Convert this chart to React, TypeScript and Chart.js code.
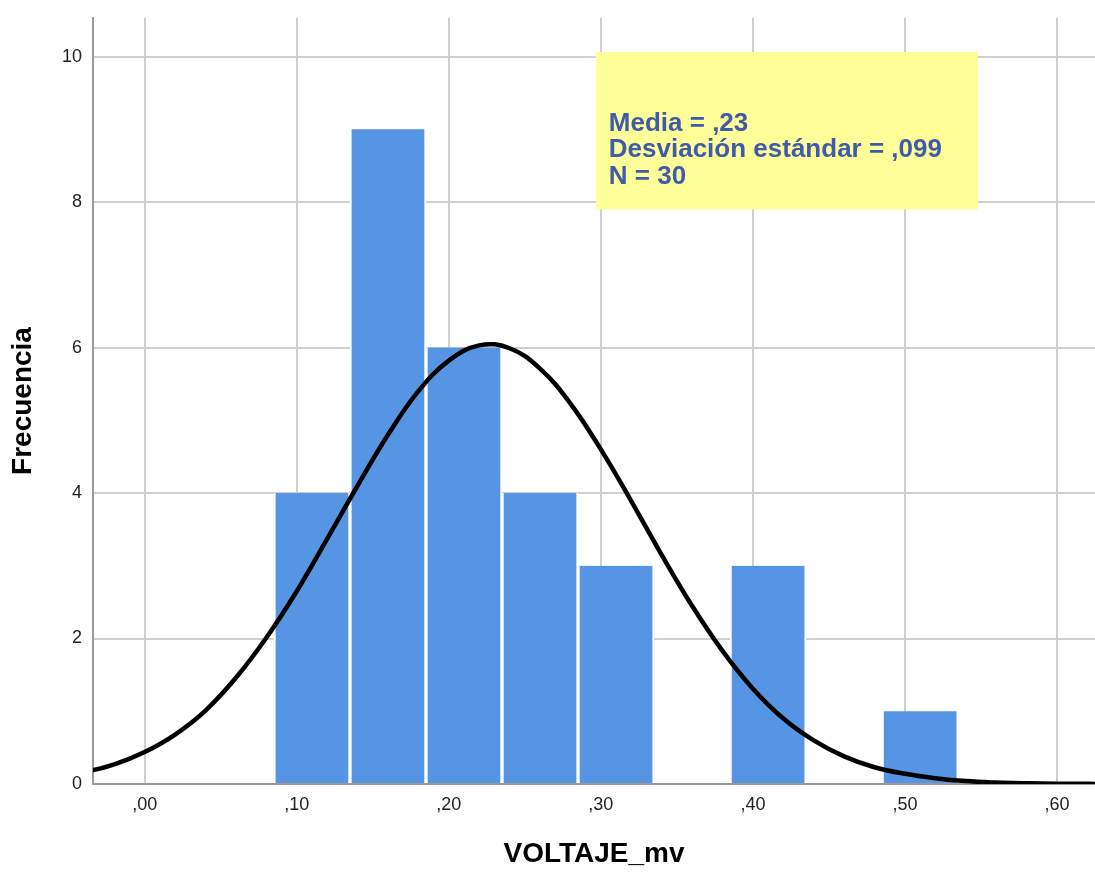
import React, { useEffect, useRef } from "react";
import { Chart, registerables } from "chart.js";

Chart.register(...registerables);

// Histogram bins (centres) and frequencies
const binCenters = [0.11, 0.16, 0.21, 0.26, 0.31, 0.36, 0.41, 0.46, 0.51];
const frequencies = [4, 9, 6, 4, 3, 0, 3, 0, 1];

// Fitted normal curve
const curveX = [
  -0.04, -0.02, 0.0, 0.02, 0.04, 0.06, 0.08, 0.1, 0.12, 0.14, 0.16, 0.18,
  0.2, 0.22, 0.24, 0.26, 0.28, 0.3, 0.32, 0.34, 0.36, 0.38, 0.4, 0.42, 0.44,
  0.46, 0.48, 0.5, 0.52, 0.54, 0.56, 0.58, 0.6, 0.62, 0.64,
];
const curveY = [
  0.16, 0.27, 0.44, 0.68, 1.01, 1.46, 2.01, 2.65, 3.37, 4.1, 4.8, 5.4, 5.82,
  6.03, 5.99, 5.71, 5.23, 4.6, 3.89, 3.15, 2.45, 1.83, 1.31, 0.9, 0.6, 0.38,
  0.23, 0.14, 0.08, 0.04, 0.02, 0.01, 0.005, 0.002, 0.001,
];

// Axis ticks
const xTicks = [0, 0.1, 0.2, 0.3, 0.4, 0.5, 0.6];
const xTickLabels = [",00", ",10", ",20", ",30", ",40", ",50", ",60"];
const yTicks = [0, 2, 4, 6, 8, 10];
const yTickLabels = ["0", "2", "4", "6", "8", "10"];

// Statistics box
const statLines = ["Media = ,23", "Desviación estándar = ,099", "N = 30"];
const statBoxX = [0.2967, 0.548];
const statBoxY = [7.9, 10.063];

const FONT = '"Liberation Sans", Arial, sans-serif';

const statsPlugin = {
  id: "statsBox",
  afterDatasetsDraw(chart: any) {
    const { ctx, scales } = chart;
    const x = scales.x;
    const y = scales.y;
    const left = x.getPixelForValue(statBoxX[0]);
    const right = x.getPixelForValue(statBoxX[1]);
    const top = y.getPixelForValue(statBoxY[1]);
    const bottom = y.getPixelForValue(statBoxY[0]);
    ctx.save();
    ctx.fillStyle = "#FFFF99";
    ctx.fillRect(left, top, right - left, bottom - top);
    ctx.fillStyle = "#3F5BA9";
    ctx.font = `bold 26px ${FONT}`;
    ctx.textBaseline = "alphabetic";
    ctx.textAlign = "left";
    statLines.forEach((t, i) => {
      ctx.fillText(t, left + 13, top + 79 + i * 26.5);
    });
    ctx.restore();
  },
};

export default function App() {
  const ref = useRef<HTMLCanvasElement | null>(null);

  useEffect(() => {
    if (!ref.current) return;
    const chart = new Chart(ref.current, {
      type: "bar",
      data: {
        datasets: [
          {
            type: "line",
            data: curveX.map((x, i) => ({ x, y: curveY[i] })),
            borderColor: "#000000",
            borderWidth: 4.5,
            pointRadius: 0,
            tension: 0.4,
            fill: false,
            order: 0,
          } as any,
          {
            type: "bar",
            data: binCenters.map((x, i) => ({ x, y: frequencies[i] })),
            backgroundColor: "#5595E3",
            borderColor: "#FFFFFF",
            borderWidth: { left: 2, right: 2, top: 0, bottom: 0 },
            borderSkipped: false,
            barPercentage: 1,
            categoryPercentage: 1,
            order: 1,
          } as any,
        ],
      },
      options: {
        animation: false,
        responsive: false,
        maintainAspectRatio: false,
        layout: { padding: { top: 18, left: 0, right: 0, bottom: 0 } },
        plugins: {
          legend: { display: false },
          tooltip: { enabled: false },
        },
        scales: {
          x: {
            type: "linear",
            min: -0.034,
            max: 0.625,
            offset: false,
            afterBuildTicks: (s: any) => {
              s.ticks = xTicks.map((v) => ({ value: v }));
            },
            afterFit: (s: any) => {
              s.height = 89;
            },
            ticks: {
              autoSkip: false,
              maxRotation: 0,
              padding: 10,
              color: "#222222",
              font: { family: FONT, size: 18 },
              callback: (_v: any, i: number) => xTickLabels[i],
            },
            grid: { color: "#CFCFCF", lineWidth: 2, drawTicks: false, offset: false },
            border: { color: "#9A9A9A", width: 2 },
            title: {
              display: true,
              text: "VOLTAJE_mv",
              color: "#000000",
              font: { family: FONT, size: 28, weight: "bold", lineHeight: 1 },
              padding: { top: 0, bottom: 5 },
            },
          },
          y: {
            type: "linear",
            min: 0,
            max: 10.53,
            afterBuildTicks: (s: any) => {
              s.ticks = yTicks.map((v) => ({ value: v }));
            },
            afterFit: (s: any) => {
              s.width = 93;
              s.paddingTop = 0;
              s.paddingBottom = 0;
            },
            ticks: {
              padding: 11,
              color: "#222222",
              font: { family: FONT, size: 18, lineHeight: 1 },
              callback: (_v: any, i: number) => yTickLabels[i],
            },
            grid: { color: "#CFCFCF", lineWidth: 2, drawTicks: false },
            border: { color: "#9A9A9A", width: 2 },
            title: {
              display: true,
              text: "Frecuencia",
              color: "#000000",
              font: { family: FONT, size: 28, weight: "bold", lineHeight: 1 },
              padding: { top: 9, bottom: 0 },
            },
          },
        },
      },
      plugins: [statsPlugin],
    } as any);
    return () => chart.destroy();
  }, []);

  return (
    <div
      style={{
        position: "absolute",
        left: 0,
        top: 0,
        width: 1095,
        height: 873,
        background: "#FFFFFF",
      }}
    >
      <canvas ref={ref} width={1095} height={873} style={{ display: "block" }} />
    </div>
  );
}
